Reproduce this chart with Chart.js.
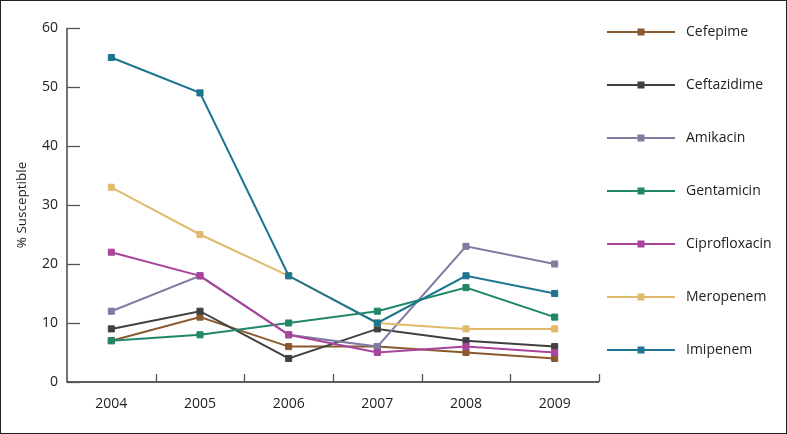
<!DOCTYPE html>
<html>
<head>
<meta charset="utf-8">
<script src="https://cdn.jsdelivr.net/npm/chart.js@4.4.1/dist/chart.umd.min.js"></script>
<style>
  html, body { margin: 0; padding: 0; background: #fff; }
  #wrap { width: 787px; height: 434px; position: relative; }
</style>
</head>
<body>
<div id="wrap"><canvas id="c" width="787" height="434"></canvas></div>
<script>
const years = ['2004', '2005', '2006', '2007', '2008', '2009'];
const yTicks = [0, 10, 20, 30, 40, 50, 60];
const yTitle = '% Susceptible';

const cefepime      = [7, 11, 6, 6, 5, 4];
const ceftazidime   = [9, 12, 4, 9, 7, 6];
const amikacin      = [12, 18, 8, 6, 23, 20];
const gentamicin    = [7, 8, 10, 12, 16, 11];
const ciprofloxacin = [22, 18, 8, 5, 6, 5];
const meropenem     = [33, 25, 18, 10, 9, 9];
const imipenem      = [55, 49, 18, 10, 18, 15];

const seriesNames = ['Cefepime', 'Ceftazidime', 'Amikacin', 'Gentamicin', 'Ciprofloxacin', 'Meropenem', 'Imipenem'];
const seriesData = [cefepime, ceftazidime, amikacin, gentamicin, ciprofloxacin, meropenem, imipenem];
const seriesColors = ['#8a5a2e', '#404040', '#7f7ba1', '#22876a', '#a8449b', '#e2ba6e', '#1e7590'];

const FONT = '"Open Sans", "Noto Sans", sans-serif';

const datasets = seriesNames.map((name, i) => ({
  label: name,
  data: seriesData[i],
  borderColor: seriesColors[i],
  backgroundColor: seriesColors[i],
  pointBackgroundColor: seriesColors[i],
  pointBorderColor: seriesColors[i],
  pointBorderWidth: 1,
  pointStyle: 'rect',
  pointRadius: 4.3,
  borderWidth: 2,
  tension: 0,
  fill: false,
  order: 7 - i
}));

const decor = {
  id: 'decor',
  afterDraw(chart) {
    const ctx = chart.ctx;
    const ca = chart.chartArea;
    const xs = chart.scales.x, ys = chart.scales.y;
    ctx.save();
    // axes
    ctx.strokeStyle = '#2a2a2a';
    ctx.lineWidth = 1.3;
    ctx.beginPath();
    ctx.moveTo(ca.left, ys.getPixelForValue(60));
    ctx.lineTo(ca.left, ys.getPixelForValue(0));
    ctx.lineTo(ca.right, ys.getPixelForValue(0));
    ctx.stroke();
    // y ticks (inside)
    ctx.strokeStyle = '#555';
    yTicks.forEach(v => {
      const y = Math.round(ys.getPixelForValue(v)) + 0.5;
      ctx.beginPath();
      ctx.moveTo(ca.left, y);
      ctx.lineTo(ca.left + 13, y);
      ctx.stroke();
    });
    // x ticks (inside) at category boundaries
    const yb = ys.getPixelForValue(0);
    for (let i = 0; i < years.length; i++) {
      let x;
      if (i < years.length - 1) x = (xs.getPixelForValue(i) + xs.getPixelForValue(i + 1)) / 2;
      else x = ca.right;
      x = Math.round(x) + 0.5;
      ctx.beginPath();
      ctx.moveTo(x, yb);
      ctx.lineTo(x, yb - 8);
      ctx.stroke();
    }
    // legend
    const lx0 = 607, lx1 = 675, mx = 641, tx = 686;
    const ly0 = 32, dy = 53;
    ctx.font = '14px ' + FONT;
    ctx.textBaseline = 'middle';
    ctx.textAlign = 'left';
    chart.data.datasets.forEach((ds, i) => {
      const y = ly0 + i * dy;
      ctx.strokeStyle = ds.borderColor;
      ctx.lineWidth = 2;
      ctx.beginPath();
      ctx.moveTo(lx0, y);
      ctx.lineTo(lx1, y);
      ctx.stroke();
      ctx.fillStyle = ds.borderColor;
      ctx.fillRect(mx - 3.5, y - 3.5, 7, 7);
      ctx.fillStyle = '#222';
      ctx.fillText(ds.label, tx, y);
    });
    // outer frame
    ctx.strokeStyle = '#222';
    ctx.lineWidth = 1;
    ctx.strokeRect(0.5, 0.5, chart.width - 1, chart.height - 1);
    ctx.restore();
  }
};

new Chart(document.getElementById('c'), {
  type: 'line',
  data: { labels: years, datasets: datasets },
  options: {
    responsive: false,
    animation: false,
    devicePixelRatio: 1,
    layout: { padding: { left: 0, top: 28, right: 188, bottom: 0 } },
    plugins: { legend: { display: false }, tooltip: { enabled: false } },
    scales: {
      x: {
        type: 'category',
        offset: true,
        grid: { display: false, drawTicks: false },
        border: { display: false },
        ticks: { color: '#222', font: { family: FONT, size: 14 }, padding: 14, maxRotation: 0 },
        afterFit(s) { s.height = 52; }
      },
      y: {
        min: 0, max: 60,
        afterBuildTicks(s) { s.ticks = yTicks.map(v => ({ value: v })); },
        grid: { display: false, drawTicks: false },
        border: { display: false },
        ticks: { color: '#222', font: { family: FONT, size: 14 }, padding: 9 },
        title: { display: true, text: yTitle, color: '#222', font: { family: FONT, size: 13.5 }, padding: { top: 14, bottom: 0 } },
        afterFit(s) { s.width = 67; }
      }
    }
  },
  plugins: [decor]
});
</script>
</body>
</html>
